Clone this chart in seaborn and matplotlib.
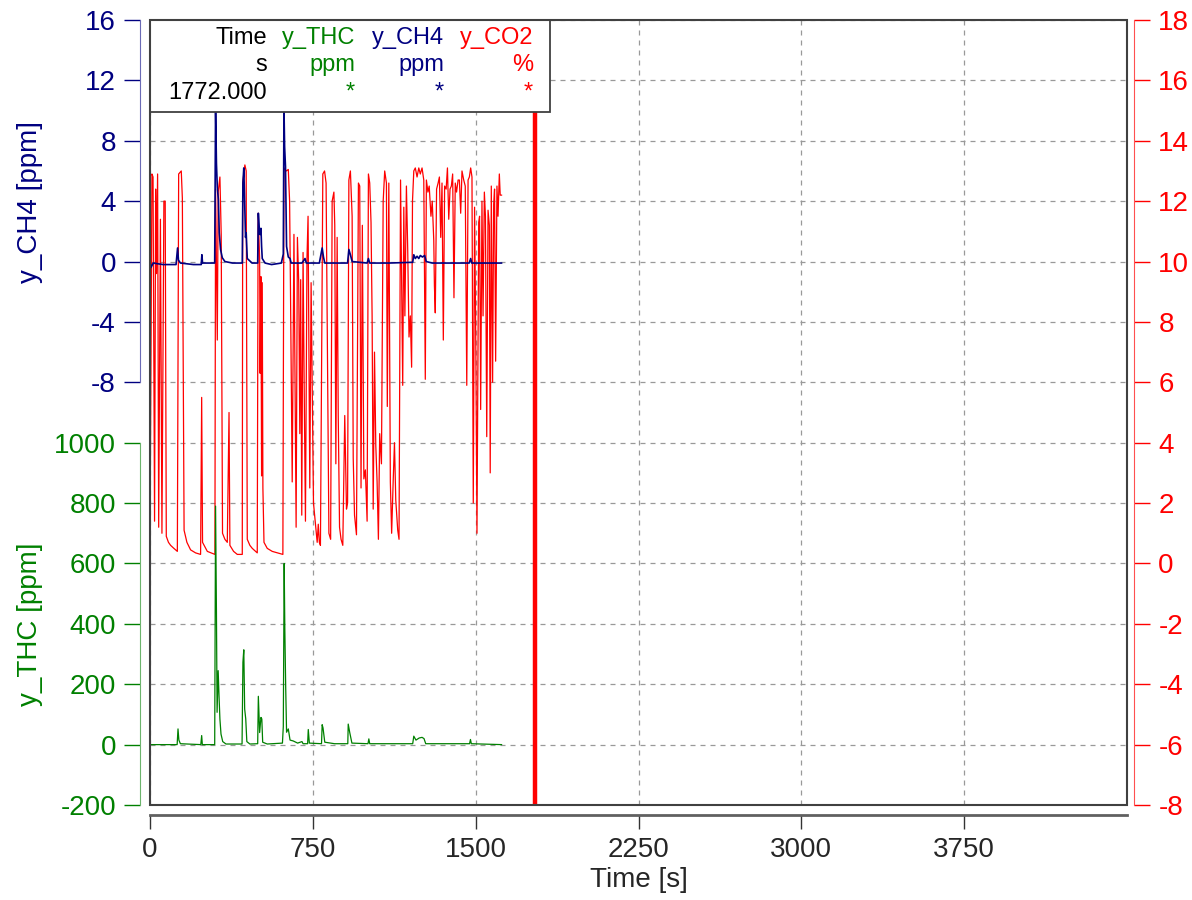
import matplotlib
matplotlib.use("Agg")
import matplotlib.pyplot as plt
from matplotlib.patches import Rectangle
import seaborn as sns
import pandas as pd

# ---- data (time in s) ----
co2_t = [0, 9, 14, 21, 26, 30, 35, 40, 48, 55, 64, 70, 75, 85, 95, 110, 126,
         132, 144, 149, 157, 170, 187, 210, 233, 238, 242, 264, 299,
         302, 310, 314, 322, 328, 334, 345, 356, 364, 368, 385, 402, 425,
         427, 437, 443, 448, 460, 471, 494, 498, 505, 507, 511, 514, 517, 520,
         525, 540, 563, 612, 617, 628, 637, 643, 647, 655, 663, 668, 673, 679,
         685, 690, 694, 699, 705, 710, 716, 723, 728, 732, 736, 742, 747, 753,
         762, 770, 775, 780, 785, 796, 804, 811, 817, 824, 832, 839, 847, 851,
         856, 862, 867, 873, 880, 888, 897, 905, 910, 916, 923, 931, 936, 942,
         951, 960, 966, 972, 978, 985, 992, 1000, 1006, 1012, 1018, 1023, 1028,
         1034, 1040, 1046, 1052, 1058, 1066, 1074, 1081, 1089, 1093, 1100, 1107,
         1113, 1120, 1126, 1132, 1141, 1147, 1154, 1164, 1169, 1174, 1181, 1187,
         1193, 1199, 1205, 1209, 1215, 1222, 1230, 1238, 1245, 1253, 1261, 1268,
         1273, 1280, 1286, 1294, 1300, 1307, 1310, 1314, 1320, 1327, 1333, 1339,
         1345, 1351, 1357, 1364, 1370, 1376, 1382, 1388, 1394, 1400, 1406, 1412,
         1419, 1425, 1431, 1437, 1445, 1452, 1459, 1465, 1471, 1477, 1483, 1489,
         1495, 1501, 1506, 1514, 1518, 1523, 1529, 1534, 1540, 1545, 1551, 1557,
         1563, 1567, 1572, 1578, 1583, 1587, 1592, 1598, 1603, 1609, 1613, 1620]
co2_v = [0.8, 12.9, 12.8, 1.4, 12.4, 9.6, 12.9, 1.2, 11.4, 1.0, 12.0, 12.0, 0.9, 0.7, 0.6, 0.5, 0.4,
         12.9, 13.0, 12.1, 1.1, 0.7, 0.45, 0.35, 0.3, 5.5, 0.7, 0.4, 0.3,
         12.4, 7.4, 12.3, 12.8, 10.9, 1.0, 0.8, 0.7, 5.0, 0.6, 0.4, 0.3, 0.3,
         12.6, 13.2, 13.0, 0.8, 0.6, 0.5, 0.35, 11.6, 10.1, 6.3, 9.5, 2.9, 9.3, 2.5,
         0.7, 0.5, 0.4, 0.3, 13.1, 13.0, 13.05, 12.0, 9.1, 2.7, 10.9, 6.0, 1.2, 10.8,
         9.3, 4.3, 9.4, 1.6, 10.3, 6.0, 1.4, 10.1, 11.5, 7.0, 2.5, 9.3, 6.0, 2.0,
         1.3, 0.7, 1.3, 0.7, 0.6, 12.9, 13.0, 12.6, 7.1, 1.0, 0.8, 12.0, 12.3, 11.2,
         3.3, 10.8, 4.9, 1.2, 0.8, 0.6, 4.9, 1.8, 2.0, 12.7, 13.0, 11.5, 3.5, 1.6,
         0.95, 12.6, 12.5, 2.5, 11.2, 2.8, 3.1, 1.4, 12.9, 12.6, 11.3, 8.2, 1.8,
         7.0, 3.9, 2.7, 0.8, 4.3, 3.3, 12.0, 13.0, 12.6, 5.2, 12.6, 2.7,
         1.0, 2.7, 4.0, 2.1, 1.1, 0.8, 12.7, 5.9, 11.8, 8.2, 12.5, 10.4,
         7.5, 8.2, 6.5, 12.0, 13.0, 13.1, 12.8, 13.1, 12.9, 13.1, 12.7, 6.1,
         12.7, 12.3, 12.5, 11.5, 12.0, 10.7, 9.2, 8.3, 12.4, 12.6, 12.8, 10.8,
         12.6, 7.4, 12.5, 12.4, 13.1, 11.4, 12.4, 12.5, 12.9, 8.8, 12.6, 12.3,
         12.7, 12.7, 11.6, 13.0, 12.7, 12.5, 5.9, 12.7, 12.8, 13.1, 12.8, 2.0,
         11.8, 6.9, 1.0, 11.3, 11.5, 5.1, 12.0, 8.2, 12.3, 11.5, 4.2, 11.7,
         11.2, 3.0, 12.5, 6.0, 11.9, 12.4, 6.7, 12.5, 11.5, 12.9, 12.2, 12.2]

ch4_t = [0, 4, 15, 60, 120, 127, 131, 140, 200, 236, 239, 242, 298, 302, 306,
         310, 315, 319, 325, 333, 345, 380, 425, 428, 432, 437, 440, 443, 448,
         470, 496, 499, 505, 509, 511, 514, 517, 530, 560, 605, 614, 617, 620,
         624, 629, 637, 645, 650, 700, 714, 720, 780, 793, 799, 805, 910, 916,
         923, 931, 1000, 1006, 1012, 1100, 1210, 1215, 1222, 1230, 1238, 1245,
         1255, 1265, 1272, 1300, 1400, 1470, 1477, 1482, 1620]
ch4_v = [0.0, -0.4, -0.1, -0.2, -0.2, 0.9, 0.1, -0.1, -0.2, -0.2, 0.45, -0.1, -0.1, 10.2, 6.5,
         4.9, 4.1, 1.9, 0.8, 0.25, 0.0, -0.1, -0.1, 5.2, 6.2, 3.4, 1.6, 1.9, 0.2,
         -0.1, -0.1, 3.2, 1.8, 1.8, 2.2, 1.0, 0.2, -0.1, -0.2, -0.1, 0.5, 10.2, 7.6,
         6.3, 1.0, 0.3, 0.2, -0.1, -0.1, 0.2, -0.1, -0.1, 0.9, 0.3, -0.1, -0.1, 0.8,
         0.45, 0.0, -0.1, 0.2, -0.1, -0.1, -0.05, 0.45, 0.2, 0.35, 0.2, 0.4,
         0.3, 0.4, 0.0, -0.1, -0.1, -0.1, 0.2, -0.1, -0.1]

thc_t = [0, 125, 129, 133, 140, 234, 238, 241, 298, 302, 306, 309, 314, 318,
         322, 327, 335, 350, 424, 428, 432, 436, 441, 446, 460, 496, 499, 505,
         511, 515, 519, 540, 610, 614, 618, 621, 625, 629, 637, 645, 660, 680,
         700, 705, 726, 729, 734, 790, 793, 797, 805, 850, 911, 913, 920, 930,
         1004, 1008, 1012, 1080, 1210, 1215, 1225, 1240, 1253, 1262, 1270, 1380,
         1472, 1476, 1480, 1620]
thc_v = [0, 0, 52, 15, 3, 0, 30, 0, 0, 790, 440, 107, 245, 160,
         85, 35, 10, 2, 2, 273, 314, 118, 85, 10, 2, 3, 160, 40,
         90, 85, 8, 2, 5, 60, 600, 383, 190, 41, 52, 15, 12, 5,
         10, 3, 3, 50, 5, 3, 66, 55, 8, 3, 3, 68, 40, 5,
         3, 19, 3, 3, 3, 28, 15, 22, 24, 20, 3, 3,
         3, 17, 3, 0]

cursor_t = 1772
x_ticks = [0, 750, 1500, 2250, 3000, 3750]
co2_ticks = list(range(-8, 19, 2))
ch4_ticks = list(range(-8, 17, 4))
thc_ticks = list(range(-200, 1001, 200))

legend_names = ["Time", "y_THC", "y_CH4", "y_CO2"]
legend_units = ["s", "ppm", "ppm", "%"]
legend_vals = ["1772.000", "*", "*", "*"]

RED = "#ff0000"
NAVY = "#000080"
GREEN = "#008000"
legend_cols = ["black", GREEN, NAVY, RED]

co2 = pd.DataFrame({"t": co2_t, "v": co2_v})
ch4 = pd.DataFrame({"t": ch4_t, "v": ch4_v})
thc = pd.DataFrame({"t": thc_t, "v": thc_v})

sns.set_style("white")
plt.rcParams["font.family"] = ["Liberation Sans", "DejaVu Sans"]
plt.rcParams["axes.unicode_minus"] = False

W, H = 1192, 900
fig = plt.figure(figsize=(W / 100, H / 100), dpi=100)
ax = fig.add_axes([150 / W, 1 - 805 / H, 977 / W, 785 / H])
ax_thc = ax.twinx()
ax_ch4 = ax.twinx()

# CO2 on the base axes (right scale)
sns.lineplot(data=co2, x="t", y="v", ax=ax, color=RED, linewidth=0.9,
             estimator=None, sort=False)
ax.set_xlim(0, 4500)
ax.set_ylim(-8, 18)
ax.set_xticks(x_ticks)
ax.set_yticks(co2_ticks)
ax.yaxis.tick_right()
ax.grid(True, color="#999999", linestyle=(0, (4, 4)), linewidth=0.9)
ax.set_ylabel("")
ax.set_xlabel("Time [s]", fontsize=20, labelpad=3)
for s in ["left", "top"]:
    ax.spines[s].set_visible(False)
ax.spines["right"].set_position(("outward", 5))
ax.spines["right"].set_color("#ff5050")
ax.spines["right"].set_bounds(-8, 18)
ax.spines["bottom"].set_position(("outward", 7))
ax.spines["bottom"].set_color("#606060")
ax.spines["bottom"].set_linewidth(2)
ax.tick_params(axis="y", right=True, left=False, labelright=True, labelleft=False,
               length=11.5, width=1, color=RED, labelcolor=RED, labelsize=20, pad=6)
ax.tick_params(axis="x", bottom=True, length=10, width=1, color="#333333",
               labelsize=20, pad=6)

# THC and CH4 share the left side
for a, df, col, lim, ticks, sp_col, label, ly in [
        (ax_thc, thc, GREEN, (-200, 2400), thc_ticks, "#6cb46c", "y_THC [ppm]", 0.2306),
        (ax_ch4, ch4, NAVY, (-36, 16), ch4_ticks, "#6a6ab5", "y_CH4 [ppm]", 0.768)]:
    sns.lineplot(data=df, x="t", y="v", ax=a, color=col,
                 linewidth=1.2 if col == NAVY else 0.9, estimator=None, sort=False)
    a.set_ylim(*lim)
    a.set_yticks(ticks)
    a.yaxis.tick_left()
    a.yaxis.set_label_position("left")
    for s in ["right", "top", "bottom"]:
        a.spines[s].set_visible(False)
    a.spines["left"].set_visible(True)
    a.spines["left"].set_position(("outward", 7))
    a.spines["left"].set_bounds(ticks[0], ticks[-1])
    a.spines["left"].set_color(sp_col)
    a.tick_params(axis="y", left=True, right=False, labelleft=True, labelright=False,
                  length=11.5, width=1, color=col, labelcolor=col, labelsize=20, pad=6)
    a.set_ylabel(label, color=col, fontsize=20)
    a.yaxis.set_label_coords(-0.11, ly)
    a.set_xlabel("")
    a.set_xlim(0, 4500)

# cursor, frame and value table on top
ax_ch4.axvline(cursor_t, color=RED, linewidth=3.2, zorder=5)
ax_ch4.add_patch(Rectangle((0, 0), 1, 1, transform=ax_ch4.transAxes, fill=False,
                           edgecolor="#404040", linewidth=1.5, clip_on=False, zorder=20))
ax_ch4.add_patch(Rectangle((0, 0.8828), 0.4094, 0.1172, transform=ax_ch4.transAxes,
                           facecolor="white", edgecolor="#404040", linewidth=1.3,
                           zorder=15))
col_x = [0.1198, 0.2098, 0.3009, 0.3920]
row_y = [0.9775, 0.9427, 0.9074]
for i in range(len(legend_names)):
    for j, txt in enumerate([legend_names[i], legend_units[i], legend_vals[i]]):
        ax_ch4.text(col_x[i], row_y[j], txt, transform=ax_ch4.transAxes,
                    ha="right", va="center", fontsize=17, color=legend_cols[i],
                    zorder=16)

fig.savefig("out.png", dpi=100)
